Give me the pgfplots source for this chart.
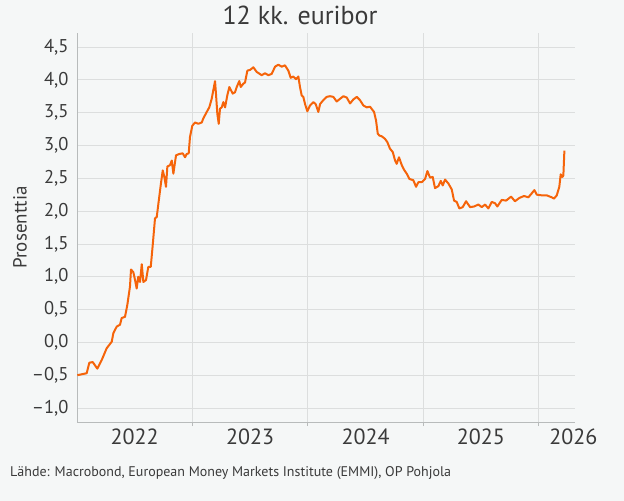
\documentclass[border=0pt]{standalone}
\usepackage{pgfplots}
\pgfplotsset{compat=1.18}
\usepackage{fontspec}
\setmainfont{PT Sans}
\definecolor{bg}{HTML}{F5F7F7}
\definecolor{grd}{HTML}{DCDEDE}
\definecolor{axc}{HTML}{B8BBBB}
\definecolor{txt}{HTML}{3A3A3A}
\definecolor{op}{HTML}{F5640A}
\pgfplotstableread{
x y
2022.003 -0.50
2022.084 -0.47
2022.107 -0.31
2022.136 -0.30
2022.176 -0.40
2022.214 -0.27
2022.257 -0.09
2022.301 0.01
2022.315 0.14
2022.344 0.24
2022.373 0.27
2022.387 0.37
2022.416 0.39
2022.436 0.57
2022.459 0.85
2022.468 1.11
2022.488 1.07
2022.503 0.95
2022.517 0.82
2022.531 1.00
2022.546 0.92
2022.561 1.19
2022.575 0.92
2022.598 0.95
2022.618 1.15
2022.639 1.15
2022.656 1.48
2022.676 1.89
2022.691 1.91
2022.705 2.11
2022.725 2.39
2022.743 2.62
2022.757 2.52
2022.771 2.37
2022.783 2.68
2022.806 2.70
2022.821 2.77
2022.835 2.57
2022.858 2.85
2022.887 2.87
2022.916 2.88
2022.936 2.82
2022.951 2.87
2022.968 2.88
2022.979 3.13
2022.999 3.30
2023.023 3.35
2023.051 3.33
2023.081 3.35
2023.094 3.41
2023.124 3.51
2023.146 3.58
2023.167 3.71
2023.181 3.84
2023.196 3.98
2023.204 3.79
2023.216 3.48
2023.228 3.33
2023.239 3.56
2023.254 3.58
2023.268 3.66
2023.283 3.58
2023.302 3.76
2023.320 3.89
2023.349 3.79
2023.369 3.81
2023.384 3.89
2023.406 3.98
2023.419 3.89
2023.441 3.94
2023.456 3.96
2023.476 4.14
2023.499 4.15
2023.528 4.19
2023.557 4.12
2023.600 4.07
2023.629 4.10
2023.658 4.07
2023.687 4.09
2023.716 4.20
2023.744 4.23
2023.774 4.20
2023.802 4.22
2023.831 4.14
2023.852 4.03
2023.874 4.05
2023.898 4.01
2023.918 4.05
2023.932 3.89
2023.947 3.76
2023.961 3.74
2023.976 3.63
2023.996 3.52
2024.019 3.61
2024.048 3.66
2024.068 3.63
2024.091 3.51
2024.106 3.63
2024.134 3.69
2024.164 3.74
2024.192 3.75
2024.221 3.74
2024.250 3.67
2024.279 3.71
2024.308 3.75
2024.337 3.73
2024.366 3.64
2024.394 3.70
2024.424 3.74
2024.452 3.69
2024.481 3.61
2024.510 3.58
2024.539 3.59
2024.574 3.51
2024.591 3.38
2024.606 3.18
2024.620 3.15
2024.640 3.14
2024.669 3.10
2024.689 3.05
2024.712 2.95
2024.736 2.90
2024.756 2.77
2024.770 2.72
2024.790 2.82
2024.814 2.70
2024.834 2.63
2024.857 2.57
2024.880 2.49
2024.914 2.47
2024.938 2.37
2024.958 2.44
2024.987 2.44
2025.016 2.49
2025.036 2.61
2025.059 2.51
2025.082 2.52
2025.102 2.35
2025.131 2.38
2025.152 2.46
2025.169 2.39
2025.189 2.48
2025.218 2.42
2025.247 2.33
2025.267 2.16
2025.290 2.14
2025.313 2.04
2025.342 2.06
2025.371 2.15
2025.406 2.06
2025.440 2.07
2025.478 2.10
2025.507 2.06
2025.536 2.10
2025.564 2.04
2025.594 2.14
2025.622 2.12
2025.642 2.07
2025.680 2.17
2025.718 2.16
2025.761 2.22
2025.795 2.15
2025.833 2.20
2025.873 2.23
2025.911 2.21
2025.940 2.27
2025.963 2.32
2025.984 2.25
2026.027 2.24
2026.070 2.24
2026.113 2.21
2026.133 2.19
2026.157 2.24
2026.179 2.37
2026.191 2.56
2026.205 2.52
2026.214 2.54
2026.223 2.92
}\euribor
\begin{document}
\begin{tikzpicture}
\fill[bg] (0,0) rectangle (624bp,501bp);
\path[use as bounding box] (0,0) rectangle (624bp,501bp);
\begin{axis}[
  at={(77bp,79bp)}, anchor=south west,
  scale only axis, width=498bp, height=389bp,
  xmin=2022, xmax=2026.315, ymin=-1.213, ymax=4.713,
  axis x line*=bottom, axis y line*=left,
  axis line style={axc, line width=0.8bp, -},
  ytick={-1,-0.5,0,0.5,1,1.5,2,2.5,3,3.5,4,4.5},
  yticklabels={{–1,0},{–0,5},{0,0},{0,5},{1,0},{1,5},{2,0},{2,5},{3,0},{3,5},{4,0},{4,5}},
  ytick style={draw=none},
  yticklabel style={font=\fontsize{18.5bp}{20bp}\selectfont, text=txt, xshift=-1bp},
  xtick={2023,2024,2025,2026},
  xticklabels={},
  xtick style={axc, line width=0.8bp},
  major tick length=4bp, tick align=outside,
  xmajorgrids, ymajorgrids,
  grid style={grd, line width=0.8bp},
  extra x ticks={2022.5,2023.5,2024.5,2025.5,2026.3},
  extra x tick labels={2022,2023,2024,2025,2026},
  extra x tick style={grid=none, major tick length=0pt,
     xticklabel style={font=\fontsize{22bp}{24bp}\selectfont, text=txt, yshift=-3bp}},
  ylabel={Prosenttia},
  ylabel style={font=\fontsize{19bp}{21bp}\selectfont, text=txt,
     at={(axis description cs:-0.1145,0.5)}, anchor=center},
  clip=false,
]
\addplot[op, line width=2bp, line join=round] table[x=x,y=y] {\euribor};
\end{axis}
\node[anchor=base, font=\fontsize{26bp}{28bp}\selectfont, text=txt] at (300bp,476bp) {12 kk. euribor};
\node[anchor=base west, font=\fontsize{14bp}{16bp}\selectfont, text=txt, inner sep=0pt] at (10bp,25bp) {Lähde: Macrobond, European Money Markets Institute (EMMI), OP Pohjola};
\end{tikzpicture}
\end{document}
